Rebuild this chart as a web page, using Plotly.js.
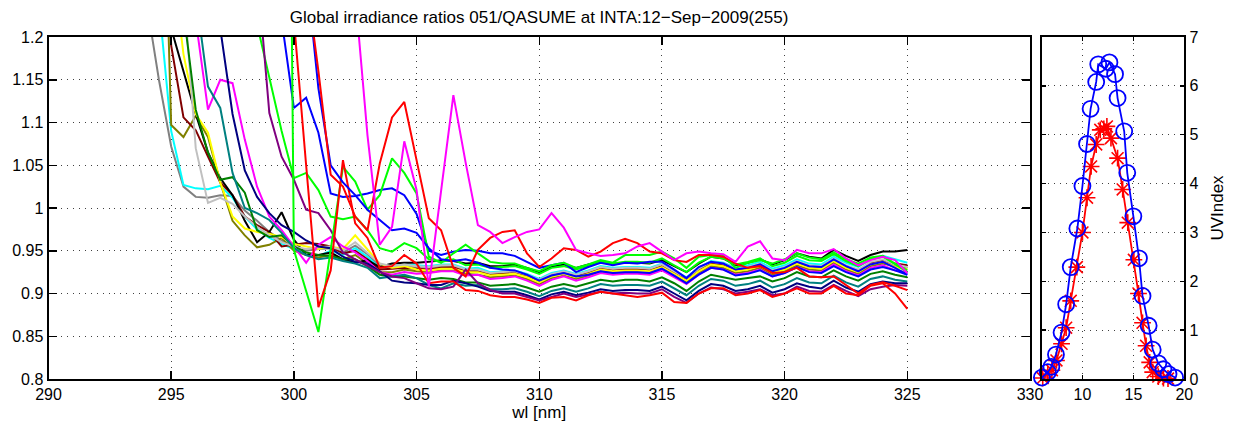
<!DOCTYPE html>
<html>
<head>
<meta charset="utf-8">
<script src="https://cdn.plot.ly/plotly-3.0.1.min.js"></script>
<style>html,body{margin:0;padding:0;background:#fff;}#chart{width:1235px;height:430px;}</style>
</head>
<body>
<div id="chart"></div>
<script>
// wavelength grid (nm)
const wl = [292,292.5,293,293.5,294,294.5,295,295.5,296,296.5,
297,297.5,298,298.5,299,299.5,300,300.5,301,301.5,
302,302.5,303,303.5,304,304.5,305,305.5,306,306.5,
307,307.5,308,308.5,309,309.5,310,310.5,311,311.5,
312,312.5,313,313.5,314,314.5,315,315.5,316,316.5,
317,317.5,318,318.5,319,319.5,320,320.5,321,321.5,
322,322.5,323,323.5,324,324.5,325];

// irradiance ratios, one array per instrument scan
const gray = [2.2,1.8,1.55,1.36,1.24,1.15,1.072,1.025,1.013,1.012,
1.015,1.014,0.997,0.985,0.972,0.962,0.955,0.95,0.952,0.953,
0.948,0.956,0.946,0.932,0.93,0.932,0.931,0.93,0.932,0.931,
0.927,0.927,0.923,0.924,0.925,0.921,0.915,0.922,0.925,0.921,
0.925,0.93,0.928,0.929,0.929,0.928,0.933,0.925,0.917,0.928,
0.936,0.934,0.928,0.93,0.934,0.926,0.93,0.937,0.932,0.931,
0.94,0.932,0.927,0.936,0.939,0.933,0.93];
const cyan = [null,null,null,null,1.4,1.24,1.09,1.027,1.023,1.022,
1.026,1.012,0.99,0.975,0.965,0.958,0.952,0.945,0.944,0.95,
0.945,0.953,0.943,0.93,0.932,0.934,0.933,0.932,0.934,0.934,
0.929,0.93,0.925,0.926,0.927,0.923,0.917,0.924,0.927,0.923,
0.927,0.932,0.93,0.931,0.931,0.93,0.935,0.927,0.919,0.93,
0.938,0.936,0.93,0.933,0.937,0.929,0.933,0.94,0.935,0.934,
0.943,0.936,0.931,0.94,0.944,0.94,0.936];
const olive = [null,null,null,null,null,1.6,1.097,1.083,1.108,1.083,
1.03,0.985,0.968,0.954,0.957,0.965,0.95,0.945,0.942,0.945,
0.94,0.945,0.935,0.925,0.925,0.928,0.926,0.925,0.927,0.927,
0.923,0.922,0.919,0.92,0.921,0.917,0.911,0.918,0.921,0.917,
0.921,0.926,0.924,0.925,0.925,0.924,0.929,0.921,0.913,0.924,
0.932,0.93,0.924,0.926,0.93,0.922,0.926,0.933,0.928,0.927,
0.936,0.928,0.923,0.932,0.935,0.932,0.93];
const maroon = [null,null,null,null,null,1.5,1.19,1.106,1.091,1.06,
1.03,1.015,0.99,0.98,0.972,0.955,0.957,0.959,0.958,0.955,
0.947,0.95,0.94,0.928,0.929,0.93,0.929,0.928,0.93,0.931,
0.927,0.926,0.922,0.924,0.925,0.92,0.914,0.921,0.924,0.92,
0.924,0.929,0.927,0.928,0.928,0.927,0.932,0.924,0.916,0.927,
0.935,0.933,0.927,0.929,0.933,0.925,0.929,0.936,0.931,0.93,
0.939,0.931,0.926,0.935,0.938,0.935,0.933];
const black = [null,null,null,null,null,1.35,1.21,1.16,1.11,1.065,
1.035,1.015,0.985,0.96,0.972,0.995,0.963,0.945,0.945,0.948,
0.94,0.936,0.939,0.931,0.935,0.936,0.936,0.937,0.939,0.938,
0.935,0.936,0.932,0.932,0.934,0.93,0.925,0.931,0.934,0.93,
0.934,0.937,0.935,0.936,0.936,0.935,0.939,0.932,0.925,0.935,
0.943,0.941,0.933,0.936,0.94,0.934,0.939,0.947,0.943,0.941,
0.951,0.944,0.938,0.945,0.949,0.949,0.951];
const yellow = [null,null,null,null,null,null,1.3,1.18,1.11,1.088,
1.03,0.99,0.976,0.972,0.97,0.966,0.958,0.955,0.952,0.955,
0.952,0.968,0.952,0.935,0.93,0.932,0.928,0.927,0.929,0.929,
0.925,0.925,0.921,0.922,0.923,0.919,0.913,0.92,0.923,0.919,
0.923,0.928,0.926,0.927,0.927,0.926,0.931,0.923,0.915,0.926,
0.934,0.932,0.926,0.928,0.932,0.924,0.928,0.935,0.93,0.929,
0.938,0.93,0.925,0.934,0.937,0.931,0.928];
const lightgray = [null,null,null,null,null,null,1.45,1.26,1.07,1.006,
1.012,1.005,0.99,0.978,0.968,0.96,0.955,0.952,0.954,0.955,
0.95,0.96,0.948,0.935,0.932,0.934,0.932,0.931,0.933,0.933,
0.928,0.928,0.924,0.925,0.926,0.922,0.916,0.923,0.926,0.922,
0.926,0.931,0.929,0.93,0.93,0.929,0.934,0.926,0.918,0.929,
0.937,0.935,0.929,0.931,0.935,0.927,0.931,0.938,0.933,0.932,
0.941,0.933,0.928,0.937,0.94,0.934,0.931];
const darkgreen = [null,null,null,null,null,null,null,1.23,1.115,1.065,
1.033,1.036,1.018,0.974,0.966,0.968,0.955,0.948,0.945,0.944,
0.94,0.94,0.932,0.922,0.92,0.92,0.918,0.916,0.918,0.917,
0.913,0.913,0.909,0.91,0.911,0.907,0.902,0.908,0.911,0.908,
0.912,0.916,0.914,0.916,0.916,0.914,0.919,0.912,0.903,0.914,
0.922,0.919,0.916,0.918,0.92,0.914,0.918,0.925,0.92,0.919,
0.927,0.92,0.915,0.923,0.926,0.922,0.919];
const magentaA = [null,null,null,null,null,null,null,1.4,1.22,1.115,
1.15,1.146,1.08,1.025,0.99,0.974,0.955,0.936,0.957,0.966,
0.955,0.948,0.938,0.925,0.922,0.925,0.923,0.924,0.926,0.926,
0.921,0.922,0.917,0.918,0.92,0.915,0.909,0.916,0.92,0.915,
0.919,0.924,0.922,0.923,0.923,0.922,0.927,0.919,0.911,0.922,
0.93,0.928,0.922,0.924,0.928,0.92,0.924,0.931,0.926,0.925,
0.934,0.926,0.921,0.93,0.933,0.927,0.925];
const teal = [null,null,null,null,null,null,null,1.4,1.25,1.142,
1.117,1.041,1.0,0.994,0.986,0.971,0.953,0.945,0.94,0.942,
0.938,0.935,0.93,0.918,0.92,0.922,0.918,0.91,0.906,0.912,
0.909,0.91,0.905,0.905,0.906,0.902,0.897,0.903,0.906,0.902,
0.906,0.911,0.909,0.91,0.91,0.909,0.914,0.906,0.898,0.909,
0.917,0.915,0.909,0.911,0.915,0.907,0.911,0.918,0.913,0.912,
0.921,0.913,0.908,0.917,0.92,0.916,0.914];
const navy = [null,null,null,null,null,null,null,null,null,1.32,
1.21,1.11,1.044,1.013,0.994,0.98,0.972,0.962,0.955,0.953,
0.943,0.937,0.935,0.926,0.915,0.913,0.912,0.91,0.91,0.915,
0.912,0.908,0.903,0.902,0.902,0.898,0.893,0.899,0.902,0.898,
0.901,0.905,0.903,0.904,0.904,0.903,0.908,0.9,0.892,0.903,
0.911,0.909,0.903,0.905,0.909,0.901,0.905,0.912,0.908,0.906,
0.915,0.907,0.902,0.911,0.914,0.912,0.912];
const limeA = [null,null,null,null,null,null,null,null,null,null,
null,null,null,1.215,1.153,1.09,1.035,1.041,1.021,0.99,
0.987,0.99,0.974,0.953,0.949,0.959,0.953,0.94,0.937,0.94,
0.933,0.934,0.93,0.931,0.932,0.928,0.923,0.93,0.932,0.928,
0.932,0.937,0.935,0.937,0.937,0.936,0.941,0.933,0.925,0.936,
0.943,0.941,0.934,0.937,0.941,0.932,0.936,0.944,0.939,0.938,
0.946,0.938,0.932,0.94,0.943,0.935,0.927];
const purple = [null,null,null,null,null,null,null,null,null,null,
null,null,null,1.28,1.111,1.06,1.033,0.998,0.994,0.974,
0.948,0.94,0.932,0.925,0.92,0.918,0.912,0.906,0.905,0.908,
0.928,0.912,0.904,0.9,0.9,0.896,0.892,0.896,0.9,0.896,
0.899,0.902,0.9,0.901,0.9,0.9,0.905,0.896,0.889,0.9,
0.907,0.905,0.9,0.902,0.905,0.898,0.9,0.908,0.903,0.902,
0.91,0.903,0.897,0.905,0.908,0.91,0.909];
const blueA = [null,null,null,null,null,null,null,null,null,null,
null,null,null,null,1.45,1.22,1.117,1.129,1.088,1.017,
1.013,1.014,1.017,1.021,1.023,1.015,0.993,0.95,0.945,0.949,
0.951,0.95,0.947,0.947,0.944,0.937,0.93,0.933,0.936,0.925,
0.931,0.936,0.933,0.936,0.935,0.937,0.937,0.928,0.918,0.931,
0.937,0.935,0.928,0.93,0.934,0.926,0.93,0.937,0.932,0.931,
0.94,0.932,0.926,0.934,0.937,0.93,0.922];
const limeB = [null,null,null,null,null,null,null,null,null,null,
null,null,null,null,null,2.5,0.951,0.903,0.855,0.951,
1.048,1.031,0.998,1.015,1.058,1.041,1.017,0.943,0.936,0.947,
0.957,0.947,0.937,0.935,0.935,0.93,0.926,0.933,0.936,0.93,
0.934,0.939,0.936,0.945,0.945,0.945,0.949,0.941,0.93,0.943,
0.945,0.944,0.93,0.936,0.939,0.935,0.94,0.947,0.942,0.94,
0.948,0.94,0.935,0.942,0.944,0.935,0.925];
const redA = [null,null,null,null,null,null,null,null,null,null,
null,null,null,null,null,1.7,1.22,1.05,0.884,0.927,
1.056,0.982,0.965,0.93,0.932,0.945,0.935,0.912,0.914,0.914,
0.904,0.903,0.898,0.896,0.896,0.893,0.889,0.895,0.896,0.892,
0.898,0.902,0.9,0.898,0.896,0.898,0.901,0.89,0.889,0.9,
0.906,0.906,0.898,0.9,0.904,0.896,0.9,0.906,0.9,0.9,
0.909,0.9,0.898,0.909,0.912,0.9,0.882];
const blueB = [null,null,null,null,null,null,null,null,null,null,
null,null,null,null,null,null,1.6,1.28,1.14,1.05,
1.03,1.015,0.998,0.986,0.974,0.976,0.971,0.953,0.94,0.938,
0.94,0.936,0.93,0.928,0.927,0.922,0.915,0.921,0.924,0.92,
0.922,0.926,0.924,0.925,0.925,0.924,0.929,0.921,0.912,0.922,
0.93,0.928,0.921,0.923,0.927,0.92,0.924,0.931,0.925,0.924,
0.932,0.925,0.92,0.928,0.931,0.927,0.922];
const redB = [null,null,null,null,null,null,null,null,null,null,
null,null,null,null,null,null,1.6,1.27,1.16,1.039,
1.025,0.99,0.974,1.052,1.106,1.124,1.056,0.988,0.974,0.93,
0.92,0.951,0.965,0.972,0.974,0.947,0.931,0.941,0.953,0.951,
0.943,0.949,0.959,0.964,0.959,0.949,0.947,0.939,0.937,0.945,
0.945,0.943,0.935,0.93,0.932,0.924,0.925,0.93,0.92,0.919,
0.92,0.91,0.9,0.91,0.913,0.909,0.904];
const magentaB = [null,null,null,null,null,null,null,null,null,null,
null,null,null,null,null,null,null,null,null,null,
1.6,1.25,1.085,0.957,0.978,1.078,1.021,0.908,1.02,1.132,
1.053,0.98,0.972,0.959,0.966,0.972,0.975,0.994,0.977,0.951,
0.947,0.944,0.945,0.947,0.955,0.959,0.949,0.939,0.947,0.949,
0.947,0.946,0.937,0.955,0.961,0.941,0.939,0.951,0.947,0.947,
0.952,0.941,0.933,0.939,0.943,0.939,0.924];

// UV index time series (hour of day)
const hoursRef = [6.02,6.6,6.95,7.4,7.95,8.4,8.85,9.5,10.0,10.45,10.8,11.35,11.55,12.3,12.65,13.2,13.45,14.1,14.4,15.0,15.55,15.9,16.5,16.9,17.45,17.95,18.45,19.1];
const uviRef = [0.03,0.14,0.25,0.5,0.95,1.53,2.29,3.08,3.95,4.81,5.53,6.08,6.44,6.35,6.48,6.24,5.75,5.07,4.22,3.33,2.47,1.7,1.09,0.6,0.32,0.2,0.1,0.03];
const hoursIns = [6.1,6.6,7.0,7.45,7.95,8.4,8.85,9.45,10.0,10.45,10.85,11.35,11.75,12.1,12.4,12.8,13.45,13.95,14.45,15.05,15.5,15.9,16.25,16.6,16.9,17.45,17.95,18.4];
const uviIns = [0.02,0.1,0.18,0.38,0.72,1.05,1.6,2.29,3.0,3.71,4.35,4.8,5.1,5.12,5.17,4.93,4.52,3.88,3.2,2.44,1.75,1.15,0.68,0.34,0.14,0.05,0.02,0.01];

const ratioSeries = [
  [gray,'#808080'],[cyan,'#00ffff'],[olive,'#808000'],[maroon,'#800000'],
  [black,'#000000'],[yellow,'#ffff00'],[lightgray,'#c0c0c0'],[darkgreen,'#008000'],
  [magentaA,'#ff00ff'],[teal,'#008080'],[navy,'#000080'],[limeA,'#00ff00'],
  [purple,'#800080'],[blueA,'#0000ff'],[limeB,'#00ff00'],[redA,'#ff0000'],
  [blueB,'#0000ff'],[redB,'#ff0000'],[magentaB,'#ff00ff']
];

const traces = ratioSeries.map(([v,c]) => ({
  x: wl, y: v, type:'scatter', mode:'lines',
  line:{color:c, width:2}, xaxis:'x', yaxis:'y',
  hoverinfo:'skip', showlegend:false
}));

traces.push({
  x: hoursIns, y: uviIns, type:'scatter', mode:'lines+markers',
  line:{color:'#ff0000', width:1.8},
  marker:{symbol:'asterisk-open', size:14, color:'#ff0000', line:{color:'#ff0000', width:1.6}},
  xaxis:'x2', yaxis:'y2', cliponaxis:false, showlegend:false, hoverinfo:'skip'
});
traces.push({
  x: hoursRef, y: uviRef, type:'scatter', mode:'lines+markers',
  line:{color:'#0000ff', width:1.8},
  marker:{symbol:'circle-open', size:16, color:'#0000ff', line:{color:'#0000ff', width:1.8}},
  xaxis:'x2', yaxis:'y2', cliponaxis:false, showlegend:false, hoverinfo:'skip'
});

const fam = 'Liberation Sans, Arial, Helvetica, sans-serif';
const tickFont = {family:fam, size:16, color:'#000'};
const labFont = {family:fam, size:17, color:'#000'};
const gridStyle = {showgrid:true, gridcolor:'rgba(0,0,0,0.75)', gridwidth:1, griddash:'1px,5px', zeroline:false};
const W = 1235;

const layout = {
  width: 1235, height: 430,
  margin:{l:0, r:0, t:37, b:51},
  paper_bgcolor:'#fff', plot_bgcolor:'#fff',
  font: tickFont,
  title:{text:'Global irradiance ratios 051/QASUME at INTA:12\u2212Sep\u22122009(255)', x:539/W, xanchor:'center', xref:'paper', y:1-17/430, yanchor:'middle', yref:'container', font:labFont},
  xaxis: Object.assign({
    domain:[48.5/W, 1030/W], range:[290,330], tick0:290, dtick:5,
    ticks:'inside', ticklen:8, tickwidth:1.5, tickcolor:'#000', mirror:'allticks',
    showline:true, linecolor:'#000', linewidth:2, tickfont:tickFont,
    title:{text:'wl [nm]', font:labFont, standoff:2}, anchor:'y'
  }, gridStyle),
  yaxis: Object.assign({
    domain:[0,1], range:[0.8,1.2], tick0:0.8, dtick:0.05,
    ticks:'inside', ticklen:8, tickwidth:1.5, tickcolor:'#000', mirror:'allticks',
    showline:true, linecolor:'#000', linewidth:2, tickfont:tickFont, anchor:'x'
  }, gridStyle),
  xaxis2: Object.assign({
    domain:[1041.7/W, 1184.3/W], range:[6,20], tickvals:[10,15,20],
    ticks:'inside', ticklen:4, tickwidth:1.5, tickcolor:'#000', mirror:'allticks',
    showline:true, linecolor:'#000', linewidth:2, tickfont:tickFont, anchor:'y2'
  }, gridStyle),
  yaxis2: Object.assign({
    domain:[0,1], range:[0,7], dtick:1, side:'right',
    ticks:'inside', ticklen:4, tickwidth:1.5, tickcolor:'#000', mirror:'allticks',
    showline:true, linecolor:'#000', linewidth:2, tickfont:tickFont, anchor:'x2',
    title:{text:'UVIndex', font:labFont, standoff:14}
  }, gridStyle)
};

Plotly.newPlot('chart', traces, layout, {staticPlot:true, displayModeBar:false});
</script>
</body>
</html>
